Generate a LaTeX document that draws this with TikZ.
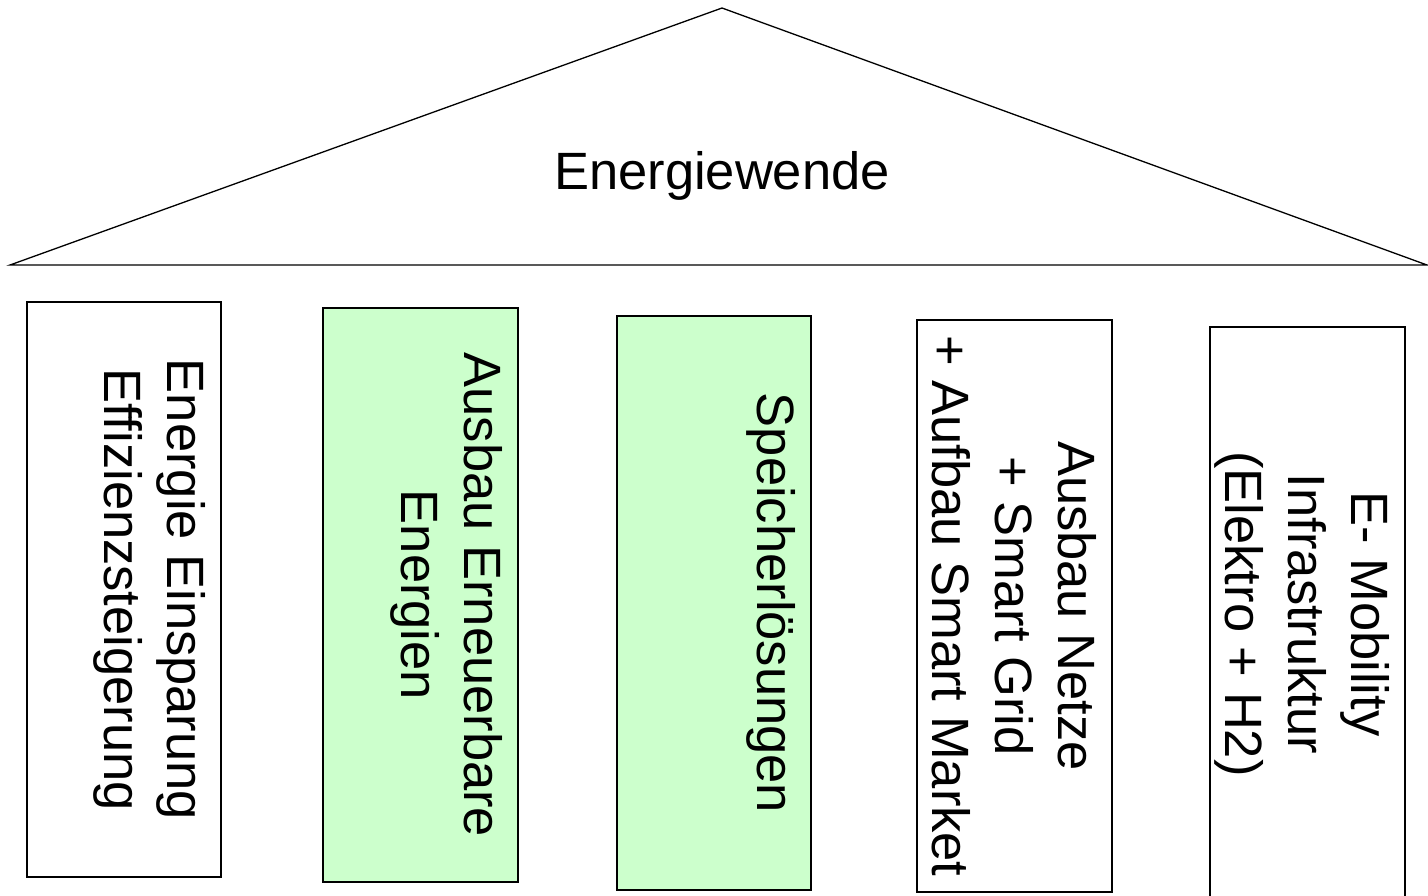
\documentclass[tikz,border=0pt]{standalone}
\usepackage{fontspec}
\setmainfont{Liberation Sans}
\definecolor{pillargreen}{HTML}{CCFFCC}
\begin{document}
\begin{tikzpicture}[x=1pt,y=-1pt,
  every node/.style={font=\fontsize{52.5}{63}\selectfont},
  pillar/.style={draw=black, line width=1.3pt, inner sep=0pt, outer sep=0pt, rectangle},
  green/.style={fill=pillargreen},
  plabel/.style={rotate=-90, anchor=north, align=center, inner sep=0pt, text=black}
]
\useasboundingbox (0,0) rectangle (1428,895);
% roof
\coordinate (rl) at (10,265);
\coordinate (ra) at (722,8);
\coordinate (rr) at (1427,265);
\draw[line width=1.3pt, line join=miter] (rl) -- (ra) -- (rr) -- cycle;
\node[anchor=base, inner sep=0pt] (title) at (722,189) {Energiewende};
% pillars
\node[pillar, minimum width=194pt, minimum height=575pt] (b1) at (124,589.5) {};
\node[pillar, green, minimum width=195pt, minimum height=574pt] (b2) at (420.5,595) {};
\node[pillar, green, minimum width=194pt, minimum height=574pt] (b3) at (714,603) {};
\node[pillar, minimum width=195pt, minimum height=572pt] (b4) at (1014.5,606) {};
\node[pillar, minimum width=195pt, minimum height=574pt] (b5) at (1307.5,614) {};
% labels
\node[plabel] (t1) at ([xshift=-15pt]b1.east) {Energie Einsparung\\Effizienzsteigerung};
\node[plabel] (t2) at ([xshift=-15pt]b2.east) {Ausbau Erneuerbare\\Energien};
\node[plabel] (t3) at ([xshift=-15pt]b3.east) {Speicherlösungen};
\node[plabel] (t4) at ([xshift=-15pt]b4.east) {Ausbau Netze\\+ Smart Grid\\+ Aufbau Smart Market};
\node[plabel] (t5) at ([xshift=-15pt]b5.east) {E- Mobility\\Infrastruktur\\(Elektro + H2)};
\end{tikzpicture}
\end{document}
